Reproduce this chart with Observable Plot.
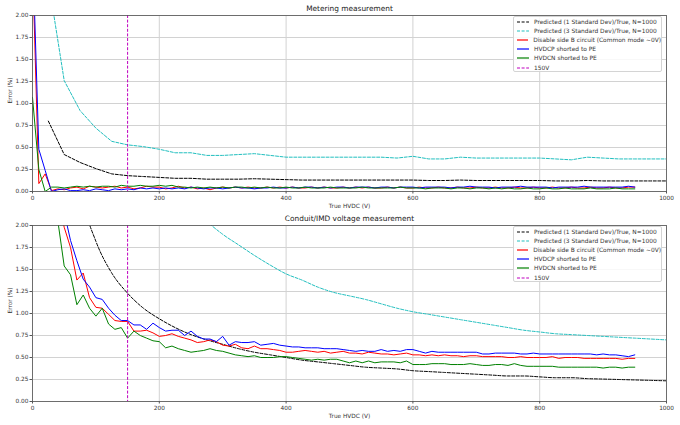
<!DOCTYPE html>
<html><head><meta charset="utf-8">
<script src="https://cdn.jsdelivr.net/npm/d3@7"></script>
<script src="https://cdn.jsdelivr.net/npm/@observablehq/plot@0.6"></script>
<style>
body{margin:0;background:#fff;font-family:"DejaVu Sans",sans-serif;}
#root{width:680px;}
.panel{position:relative;width:680px;}
.panel svg{display:block;}
.legend{position:absolute;left:513px;width:149px;height:56px;border:1px solid #d4d4d4;border-radius:2px;background:rgba(255,255,255,0.85);box-sizing:border-box;padding-top:0.5px;}
.row{height:9.1px;display:flex;align-items:center;font-size:5.9px;color:#333;white-space:nowrap;}
.row svg{margin-left:3px;margin-right:5px;}
</style></head><body><div id="root"></div>
<script>
// Sample voltages of the measured series (V)
const measuredVolts = [0,10,20,30,40,50,60,70,80,90,100,110,120,130,140,150,160,170,180,190,200,210,220,230,240,250,260,270,280,290,300,310,320,330,340,350,360,370,380,390,400,410,420,430,440,450,460,470,480,490,500,510,520,530,540,550,560,570,580,590,600,610,620,630,640,650,660,670,680,690,700,710,720,730,740,750,760,770,780,790,800,810,820,830,840,850,860,870,880,890,900,910,920,930,940,950];
// Sample voltages of the predicted curves (V)
const predictedVolts = [25,50,75,100,125,150,175,200,225,250,275,300,325,350,375,400,425,450,475,500,525,550,575,600,625,650,675,700,725,750,775,800,825,850,875,900,925,950,975,1000];

// --- Metering measurement (Error %) ---
const meterOneSD = [0.80,0.42,0.33,0.26,0.20,0.18,0.17,0.16,0.15,0.15,0.14,0.14,0.14,0.145,0.14,0.135,0.13,0.13,0.13,0.13,0.13,0.13,0.13,0.13,0.125,0.125,0.13,0.125,0.125,0.125,0.125,0.125,0.12,0.12,0.125,0.12,0.12,0.12,0.12,0.12];
const meterThreeSD = [2.40,1.26,0.92,0.72,0.57,0.53,0.51,0.48,0.44,0.44,0.41,0.41,0.42,0.43,0.41,0.39,0.39,0.39,0.39,0.39,0.39,0.39,0.38,0.40,0.37,0.37,0.39,0.38,0.38,0.38,0.38,0.38,0.37,0.36,0.39,0.38,0.37,0.37,0.37,0.37];
const meterSideB = [2.6,0.09,0.20,0.01,0.03,0.02,0.04,0.05,0.03,0.06,0.05,0.04,0.05,0.06,0.04,0.05,0.03,0.04,0.06,0.05,0.05,0.03,0.04,0.06,0.04,0.05,0.03,0.04,0.02,0.04,0.05,0.04,0.05,0.04,0.05,0.04,0.04,0.05,0.04,0.05,0.04,0.05,0.04,0.04,0.05,0.04,0.05,0.04,0.04,0.05,0.04,0.05,0.04,0.05,0.04,0.04,0.05,0.04,0.05,0.04,0.04,0.05,0.04,0.04,0.05,0.04,0.04,0.05,0.04,0.04,0.05,0.04,0.04,0.05,0.04,0.04,0.05,0.04,0.04,0.05,0.04,0.04,0.05,0.04,0.04,0.05,0.04,0.04,0.05,0.04,0.04,0.05,0.04,0.04,0.05,0.05];
const meterHVDCP = [2.8,0.48,0.24,0.00,0.02,0.03,0.01,0.01,0.02,0.01,0.03,0.02,0.01,0.03,0.02,0.03,0.02,0.04,0.03,0.04,0.03,0.04,0.03,0.04,0.03,0.05,0.04,0.03,0.04,0.04,0.03,0.04,0.05,0.04,0.04,0.03,0.04,0.04,0.05,0.04,0.04,0.05,0.04,0.05,0.05,0.04,0.05,0.04,0.05,0.05,0.04,0.05,0.05,0.05,0.04,0.05,0.05,0.04,0.05,0.05,0.05,0.04,0.05,0.05,0.05,0.05,0.04,0.05,0.05,0.06,0.05,0.05,0.05,0.04,0.05,0.05,0.05,0.06,0.05,0.05,0.05,0.05,0.04,0.05,0.05,0.05,0.05,0.06,0.05,0.05,0.05,0.05,0.05,0.05,0.06,0.05];
const meterHVDCN = [1.07,0.25,0.00,0.05,0.05,0.04,0.05,0.06,0.05,0.06,0.05,0.06,0.06,0.05,0.07,0.06,0.06,0.07,0.06,0.06,0.07,0.06,0.07,0.05,0.05,0.04,0.05,0.04,0.05,0.04,0.05,0.04,0.05,0.05,0.04,0.05,0.04,0.05,0.04,0.04,0.05,0.04,0.04,0.05,0.04,0.04,0.04,0.05,0.04,0.04,0.04,0.04,0.05,0.04,0.04,0.04,0.04,0.04,0.05,0.04,0.04,0.04,0.03,0.04,0.04,0.04,0.03,0.04,0.04,0.03,0.04,0.04,0.03,0.04,0.03,0.04,0.03,0.03,0.04,0.03,0.03,0.04,0.03,0.03,0.04,0.03,0.03,0.03,0.04,0.03,0.03,0.03,0.04,0.03,0.03,0.03];

// --- Conduit/IMD voltage measurement (Error %) ---
const conduitOneSD = [7.08,3.57,2.40,1.82,1.46,1.23,1.06,0.94,0.84,0.76,0.70,0.65,0.60,0.56,0.53,0.50,0.47,0.45,0.43,0.41,0.39,0.38,0.37,0.35,0.34,0.33,0.32,0.31,0.30,0.29,0.29,0.28,0.27,0.27,0.26,0.255,0.25,0.245,0.24,0.235];
const conduitThreeSD = [21.2,10.7,7.2,5.5,4.4,3.7,3.2,2.80,2.50,2.25,2.05,1.90,1.78,1.66,1.55,1.45,1.38,1.30,1.24,1.20,1.16,1.11,1.06,1.02,0.99,0.96,0.93,0.90,0.87,0.84,0.81,0.79,0.77,0.76,0.75,0.74,0.73,0.72,0.71,0.70];
const conduitSideB = [9.0,6.0,4.0,2.9,2.3,1.98,1.75,1.38,1.46,1.18,1.07,1.06,0.99,0.92,0.91,0.91,0.80,0.80,0.81,0.78,0.74,0.75,0.77,0.74,0.72,0.70,0.67,0.68,0.70,0.68,0.64,0.63,0.65,0.61,0.60,0.63,0.60,0.60,0.59,0.58,0.56,0.56,0.57,0.58,0.57,0.56,0.57,0.55,0.56,0.57,0.55,0.55,0.54,0.56,0.55,0.54,0.54,0.53,0.54,0.55,0.53,0.53,0.52,0.53,0.52,0.53,0.52,0.52,0.51,0.52,0.52,0.51,0.51,0.51,0.51,0.50,0.50,0.51,0.50,0.50,0.50,0.50,0.51,0.49,0.50,0.50,0.50,0.49,0.49,0.49,0.49,0.49,0.49,0.48,0.49,0.49];
const conduitHVDCP = [9.5,6.5,4.5,3.2,2.5,2.15,1.83,1.60,1.39,1.30,1.18,1.16,1.06,0.98,0.92,0.92,0.87,0.87,0.82,0.89,0.84,0.80,0.81,0.81,0.75,0.80,0.74,0.71,0.71,0.68,0.74,0.64,0.68,0.67,0.67,0.68,0.64,0.65,0.66,0.64,0.63,0.62,0.62,0.61,0.61,0.61,0.60,0.60,0.60,0.59,0.58,0.57,0.58,0.57,0.57,0.59,0.57,0.58,0.57,0.59,0.59,0.57,0.55,0.57,0.56,0.56,0.56,0.56,0.56,0.56,0.56,0.54,0.54,0.55,0.55,0.55,0.55,0.54,0.54,0.55,0.54,0.54,0.54,0.54,0.54,0.54,0.54,0.54,0.54,0.53,0.54,0.53,0.53,0.52,0.51,0.53];
const conduitHVDCN = [8.0,5.0,3.5,2.6,2.05,1.54,1.44,1.10,1.21,1.06,0.97,1.06,0.88,0.82,0.84,0.72,0.80,0.75,0.72,0.69,0.68,0.61,0.63,0.60,0.58,0.56,0.57,0.58,0.60,0.58,0.57,0.55,0.53,0.52,0.51,0.52,0.50,0.50,0.50,0.51,0.51,0.50,0.49,0.48,0.47,0.48,0.47,0.48,0.48,0.46,0.44,0.46,0.44,0.46,0.44,0.45,0.45,0.45,0.44,0.46,0.42,0.42,0.42,0.43,0.43,0.43,0.42,0.42,0.42,0.43,0.42,0.41,0.41,0.42,0.42,0.41,0.43,0.41,0.40,0.40,0.40,0.40,0.40,0.39,0.39,0.39,0.39,0.39,0.39,0.39,0.38,0.39,0.39,0.38,0.39,0.39];

const markerVolts = [150];
const xTicks = [0,200,400,600,800,1000];
const yTicks = [0,0.25,0.5,0.75,1,1.25,1.5,1.75,2];
const legendLabels = ["Predicted (1 Standard Dev)/True, N=1000","Predicted (3 Standard Dev)/True, N=1000","Disable side B circuit (Common mode ~0V)","HVDCP shorted to PE","HVDCN shorted to PE","150V"];
const seriesColors = ["#000000","#22bfbf","#ff0000","#0000ff","#008000","#bf00bf"];
const seriesDashed = [true,true,false,false,false,true];

const pairs = (xs, ys) => xs.map((x, i) => ({x, y: ys[i]}));

function panel({title, oneSD, threeSD, sideB, hvdcp, hvdcn, height, mt, mb, smooth, legendTop}) {
  const predCurve = smooth ? "monotone-x" : "linear";
  const plot = Plot.plot({
    width: 680, height,
    marginLeft: 32, marginRight: 14, marginTop: mt, marginBottom: mb,
    style: {fontFamily: "DejaVu Sans", fontSize: "5.8px", color: "#333", background: "#fff"},
    x: {domain: [0, 1000], label: null},
    y: {domain: [0, 2], label: null},
    marks: [
      Plot.gridX({ticks: xTicks, stroke: "#d2d2d2", strokeOpacity: 1}),
      Plot.gridY({ticks: yTicks, stroke: "#d2d2d2", strokeOpacity: 1}),
      Plot.line(pairs(predictedVolts, oneSD), {x: "x", y: "y", stroke: seriesColors[0], strokeWidth: 1, strokeDasharray: "3,1.6", curve: predCurve, clip: true}),
      Plot.line(pairs(predictedVolts, threeSD), {x: "x", y: "y", stroke: seriesColors[1], strokeWidth: 1, strokeDasharray: "3,1.6", curve: predCurve, clip: true}),
      Plot.line(pairs(measuredVolts, sideB), {x: "x", y: "y", stroke: seriesColors[2], strokeWidth: 1, clip: true}),
      Plot.line(pairs(measuredVolts, hvdcp), {x: "x", y: "y", stroke: seriesColors[3], strokeWidth: 1, clip: true}),
      Plot.line(pairs(measuredVolts, hvdcn), {x: "x", y: "y", stroke: seriesColors[4], strokeWidth: 1, clip: true}),
      Plot.ruleX(markerVolts, {stroke: seriesColors[5], strokeWidth: 1, strokeDasharray: "3,1.6"}),
      Plot.frame({stroke: "#555", strokeWidth: 0.8}),
      Plot.axisX({ticks: xTicks, tickSize: 2.5, tickPadding: 1.5, fontSize: 5.8, label: null, stroke: "#555", tickFormat: d => String(d)}),
      Plot.axisY({ticks: yTicks, tickSize: 2.5, tickPadding: 1.5, fontSize: 5.8, label: null, tickFormat: d3.format(".2f"), stroke: "#555"}),
      Plot.text([title], {text: d => d, frameAnchor: "top", dy: -7, lineAnchor: "middle", fontSize: 7.4, fill: "#222"}),
      Plot.text(["True HVDC (V)"], {text: d => d, frameAnchor: "bottom", dy: 15, lineAnchor: "middle", fontSize: 5.8, fill: "#333"}),
      Plot.text(["Error (%)"], {text: d => d, frameAnchor: "left", dx: -22, rotate: -90, lineAnchor: "middle", fontSize: 5.8, fill: "#333"})
    ]
  });
  const wrap = document.createElement("div");
  wrap.className = "panel";
  wrap.appendChild(plot);
  const lg = document.createElement("div");
  lg.className = "legend";
  lg.style.top = legendTop + "px";
  legendLabels.forEach((lab, i) => {
    const row = document.createElement("div");
    row.className = "row";
    const dash = seriesDashed[i] ? ' stroke-dasharray="3,1.6"' : '';
    row.innerHTML = `<svg width="12" height="4"><line x1="0" y1="2" x2="12" y2="2" stroke="${seriesColors[i]}" stroke-width="1.2"${dash}/></svg><span>${lab}</span>`;
    lg.appendChild(row);
  });
  wrap.appendChild(lg);
  return wrap;
}

const root = document.getElementById("root");
root.appendChild(panel({title: "Metering measurement", oneSD: meterOneSD, threeSD: meterThreeSD, sideB: meterSideB, hvdcp: meterHVDCP, hvdcn: meterHVDCN, height: 213, mt: 15, mb: 22, smooth: false, legendTop: 16}));
root.appendChild(panel({title: "Conduit/IMD voltage measurement", oneSD: conduitOneSD, threeSD: conduitThreeSD, sideB: conduitSideB, hvdcp: conduitHVDCP, hvdcn: conduitHVDCN, height: 212, mt: 12, mb: 24, smooth: true, legendTop: 13}));
</script>
</body></html>
